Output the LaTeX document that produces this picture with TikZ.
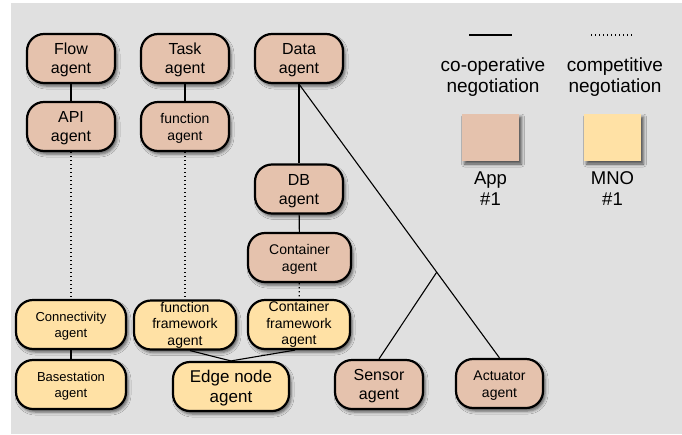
\documentclass[tikz,border=0pt]{standalone}
\usepackage{fontspec}
\setmainfont{Liberation Sans}
\usetikzlibrary{calc,shadows.blur}
\definecolor{appfill}{HTML}{E5C2AD}
\definecolor{mnofill}{HTML}{FFE1A5}
\definecolor{canvas}{HTML}{E0E0E0}
\newcommand{\fsz}[2]{\fontsize{#1}{#2}\selectfont}
% strut on the first line so two-line labels sit slightly low, like ascender boxes
\newcommand{\ts}{\rule{0pt}{0.95em}}
\tikzset{
  agentbox/.style={draw=black, line width=2.2pt, rounded corners=17pt,
    minimum width=88pt, minimum height=49pt, inner sep=0pt, align=center,
    blur shadow={shadow xshift=2pt, shadow yshift=-3pt, shadow blur radius=3pt, shadow opacity=60}},
  app/.style={agentbox, fill=appfill},
  mno/.style={agentbox, fill=mnofill},
  coop/.style={line width=1.1pt},
  comp/.style={line width=1.3pt, dash pattern=on 1.2pt off 2.8pt},
  swatch/.style={minimum width=57pt, minimum height=47pt, inner sep=0pt,
    blur shadow={shadow xshift=2.5pt, shadow yshift=-3pt, shadow blur radius=3pt, shadow opacity=65}},
  legendtext/.style={align=center, inner sep=0pt}
}
\begin{document}
\begin{tikzpicture}[x=1pt, y=-1pt]
\useasboundingbox (0,0) rectangle (682,434);
\fill[canvas] (11,3) rectangle (682,434);

% application side
\node[app, font=\fsz{16}{19}] (flow) at (71,58.5) {\ts Flow\\agent};
\node[app, font=\fsz{16}{19}] (api) at (71,126.5) {\ts API\\agent};
\node[app, font=\fsz{16}{19}] (task) at (185,58.5) {\ts Task\\agent};
\node[app, font=\fsz{14}{17}] (func) at (185,126.5) {\ts function\\agent};
\node[app, font=\fsz{16}{19}] (data) at (299,58.5) {\ts Data\\agent};
\node[app, font=\fsz{16}{19}] (db) at (299,189) {\ts DB\\agent};
\node[app, font=\fsz{14}{17}, minimum width=103pt] (cont) at (299.5,257.5) {\ts Container\\agent};
\node[app, font=\fsz{16}{19}] (sensor) at (379,384.5) {\ts Sensor\\agent};
\node[app, font=\fsz{14}{17}, minimum width=87pt] (act) at (499.5,383.5) {\ts Actuator\\agent};

% operator side
\node[mno, font=\fsz{13}{15.5}, minimum width=110pt] (conn) at (71,324.5) {\ts Connectivity\\agent};
\node[mno, font=\fsz{13}{15.5}, minimum width=110pt] (base) at (71,384.5) {\ts Basestation\\agent};
\node[mno, font=\fsz{14}{16.5}, minimum width=102pt] (ffw) at (185,325) {function\\framework\\agent};
\node[mno, font=\fsz{14}{16.5}, minimum width=102pt] (cfw) at (299,324.5) {Container\\framework\\agent};
\node[mno, font=\fsz{17}{20}, minimum width=116pt] (edge) at (231,386.5) {\ts Edge node\\agent};

% co-operative links
\draw[coop] (flow) -- (api);
\draw[coop] (task) -- (func);
\draw[coop] (data) -- (db);
\draw[coop] (db) -- (cont);
\draw[coop] (conn) -- (base);
\draw[coop] ([xshift=5pt]ffw.south) -- (edge.north) -- ([xshift=-4pt]cfw.south);
\coordinate (fork) at ($(data.south)!0.687!(act.north)$);
\draw[coop] (data.south) -- (act.north);
\draw[coop] (fork) -- (sensor.north);

% competitive links
\draw[comp] (api) -- (conn);
\draw[comp] (func) -- (ffw);
\draw[comp] (cont) -- (cfw);

% legend
\coordinate (ca) at (469,35);
\coordinate (cb) at (512,35);
\coordinate (da) at (591,35);
\coordinate (db2) at (634,35);
\draw[coop] (ca) -- (cb);
\draw[comp] (da) -- (db2);
\node[legendtext, font=\fsz{19}{21.5}] (coopl) at (493,77) {co-operative\\negotiation};
\node[legendtext, font=\fsz{19}{21.5}] (compl) at (615,77) {competitive\\negotiation};
\node[swatch, fill=appfill] (appsw) at (490.5,137.5) {};
\node[swatch, fill=mnofill] (mnosw) at (612.5,137.5) {};
\node[legendtext, font=\fsz{18.5}{20.5}] (appl) at (490.5,188.5) {App\\\#1};
\node[legendtext, font=\fsz{18.5}{20.5}] (mnol) at (612.5,188.5) {MNO\\\#1};
\end{tikzpicture}
\end{document}
